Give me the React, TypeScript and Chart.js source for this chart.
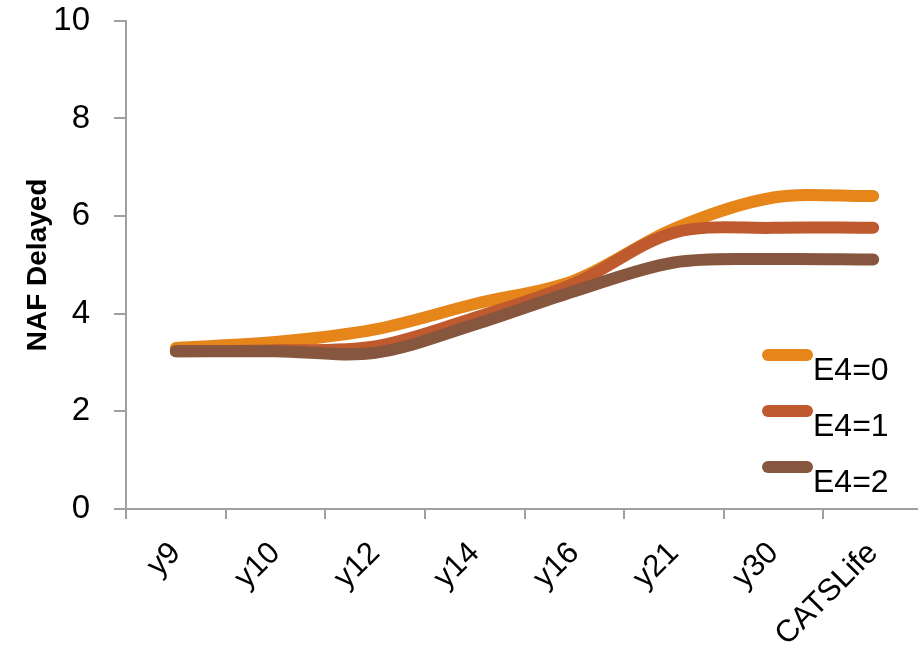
import React, { useEffect, useRef } from "react";
import { Chart, registerables } from "chart.js";

Chart.register(...registerables);

// Categories along the horizontal axis
const categories = ["y9", "y10", "y12", "y14", "y16", "y21", "y30", "CATSLife"];

// NAF Delayed per group
const e4Zero = [3.3, 3.42, 3.68, 4.2, 4.68, 5.74, 6.38, 6.41];
const e4One = [3.23, 3.25, 3.33, 3.92, 4.62, 5.66, 5.76, 5.76];
const e4Two = [3.23, 3.23, 3.2, 3.78, 4.46, 5.05, 5.12, 5.11];

const seriesLabels = ["E4=0", "E4=1", "E4=2"];
const seriesColors = ["#E6861A", "#BE5A2D", "#87563F"];

const yTicks = [0, 2, 4, 6, 8, 10];

const FONT = "'Liberation Sans', Arial, sans-serif";
const AXIS_GREY = "#A0A0A0";

// Vertical shift of the canvas inside its clipping frame
const SHIFT = 23;

// Legend drawn inside the plot, lower right
const inlineLegend = {
  id: "inlineLegend",
  afterDatasetsDraw(chart: any) {
    const { ctx } = chart;
    const startX = 768;
    const endX = 807;
    const firstY = 355 + SHIFT;
    const step = 56;
    ctx.save();
    chart.data.datasets.forEach((ds: any, i: number) => {
      const y = firstY + i * step;
      ctx.beginPath();
      ctx.lineCap = "round";
      ctx.lineWidth = 12;
      ctx.strokeStyle = ds.borderColor;
      ctx.moveTo(startX, y);
      ctx.lineTo(endX, y);
      ctx.stroke();
      ctx.fillStyle = "#000";
      ctx.font = `32px ${FONT}`;
      ctx.textAlign = "left";
      ctx.textBaseline = "alphabetic";
      ctx.fillText(ds.label, 813, y + 25);
    });
    ctx.restore();
  },
};

export default function App() {
  const canvasRef = useRef<HTMLCanvasElement | null>(null);

  useEffect(() => {
    if (!canvasRef.current) return;
    const series = [e4Zero, e4One, e4Two];
    const chart = new Chart(canvasRef.current, {
      type: "line",
      data: {
        labels: categories,
        datasets: series.map((values, i) => ({
          label: seriesLabels[i],
          data: values,
          borderColor: seriesColors[i],
          backgroundColor: seriesColors[i],
          borderWidth: 12,
          borderCapStyle: "round" as const,
          borderJoinStyle: "round" as const,
          pointRadius: 0,
          pointHoverRadius: 0,
          tension: 0.33,
          fill: false,
          order: series.length - i,
        })),
      },
      options: {
        animation: false,
        responsive: true,
        maintainAspectRatio: false,
        layout: { padding: { left: 0, right: 17, top: 0, bottom: 0 } },
        plugins: {
          legend: { display: false },
          tooltip: { enabled: false },
        },
        scales: {
          x: {
            type: "category",
            offset: true,
            grid: {
              offset: true,
              drawOnChartArea: false,
              drawTicks: true,
              tickLength: 10,
              color: AXIS_GREY,
              lineWidth: 2,
            },
            border: { display: true, color: AXIS_GREY, width: 2 },
            ticks: {
              minRotation: 45,
              maxRotation: 45,
              autoSkip: false,
              padding: 16,
              color: "#000",
              font: { family: FONT, size: 31 },
            },
            afterFit(scale: any) {
              scale.height = 139;
            },
          },
          y: {
            min: 0,
            max: 10,
            afterBuildTicks(scale: any) {
              scale.ticks = yTicks.map((v) => ({ value: v }));
            },
            grid: {
              drawOnChartArea: false,
              drawTicks: true,
              tickLength: 12,
              color: AXIS_GREY,
              lineWidth: 2,
            },
            border: { display: true, color: AXIS_GREY, width: 2 },
            ticks: {
              padding: 24,
              color: "#000",
              font: { family: FONT, size: 33 },
            },
            title: {
              display: true,
              text: "NAF Delayed",
              color: "#000",
              font: { family: FONT, size: 28, weight: "bold" },
              padding: { top: 21, bottom: 0 },
            },
            afterFit(scale: any) {
              scale.width = 126;
            },
          },
        },
      },
      plugins: [inlineLegend],
    });
    return () => chart.destroy();
  }, []);

  return (
    <div
      style={{
        position: "fixed",
        left: 0,
        top: 0,
        width: 918,
        height: 648,
        overflow: "hidden",
        background: "#fff",
      }}
    >
      <div
        style={{
          position: "absolute",
          left: 0,
          top: -SHIFT,
          width: 940,
          height: 648 + SHIFT,
        }}
      >
        <canvas ref={canvasRef} />
      </div>
    </div>
  );
}
